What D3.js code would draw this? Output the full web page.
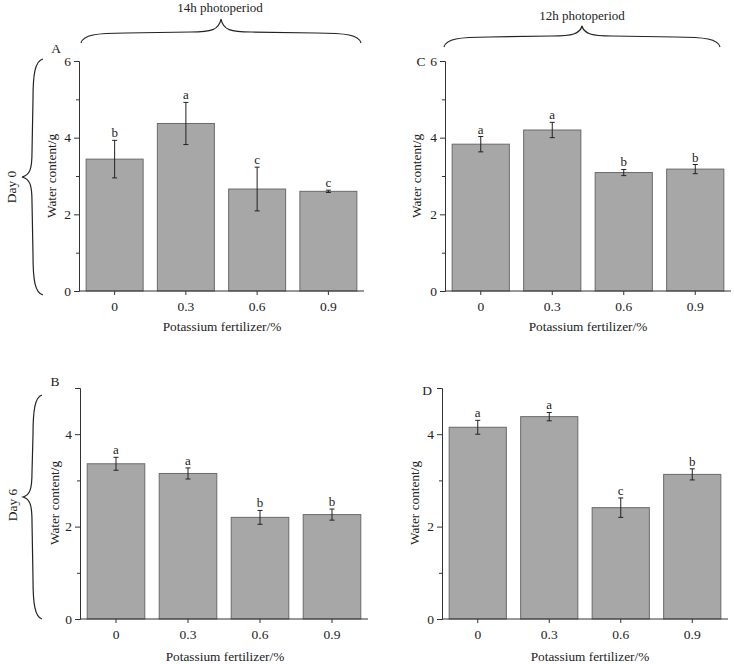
<!DOCTYPE html>
<html><head><meta charset="utf-8">
<script src="https://cdn.jsdelivr.net/npm/d3@7"></script>
<style>
body{margin:0;background:#fff;}
text{font-family:"Liberation Serif","Times New Roman",serif;fill:#222;}
</style></head>
<body>
<svg id="c" width="734" height="664"></svg>
<script>
const categories = ["0", "0.3", "0.6", "0.9"];
const meansA = [3.44, 4.37, 2.66, 2.60];
const errA = [0.49, 0.55, 0.57, 0.03];
const lettersA = ["b", "a", "c", "c"];
const meansB = [3.36, 3.15, 2.20, 2.26];
const errB = [0.14, 0.12, 0.15, 0.12];
const lettersB = ["a", "a", "b", "b"];
const meansC = [3.83, 4.20, 3.09, 3.18];
const errC = [0.20, 0.20, 0.08, 0.12];
const lettersC = ["a", "a", "b", "b"];
const meansD = [4.15, 4.38, 2.41, 3.13];
const errD = [0.15, 0.09, 0.21, 0.12];
const lettersD = ["a", "a", "c", "b"];
const yTicksDay0 = [0, 2, 4, 6];
const yMinorDay0 = [1, 3, 5];
const yTicksDay6 = [0, 2, 4];
const yMinorDay6 = [1, 3, 5];
const xTitle = "Potassium fertilizer/%";
const yTitle = "Water content/g";

const svg = d3.select("#c");
const axisColor = "#333";

function panel(o) {
  const g = svg.append("g");
  const x = d3.scaleBand().domain(categories).range([o.x0, o.x1]).paddingInner(0.2).paddingOuter(0.1);
  const y = d3.scaleLinear().domain([0, o.ymax]).range([o.y0, o.y1]);
  g.selectAll("rect.bar").data(categories).join("rect")
    .attr("x", d => x(d)).attr("width", x.bandwidth())
    .attr("y", (d, i) => y(o.means[i])).attr("height", (d, i) => y(0) - y(o.means[i]))
    .attr("fill", "#a7a7a7").attr("stroke", "#6a6a6a").attr("stroke-width", 1);
  const eb = g.selectAll("g.eb").data(categories).join("g");
  eb.append("line")
    .attr("x1", d => x(d) + x.bandwidth() / 2).attr("x2", d => x(d) + x.bandwidth() / 2)
    .attr("y1", (d, i) => y(o.means[i] - o.err[i])).attr("y2", (d, i) => y(o.means[i] + o.err[i]))
    .attr("stroke", "#222").attr("stroke-width", 1);
  [-1, 1].forEach(s => {
    eb.append("line")
      .attr("x1", d => x(d) + x.bandwidth() / 2 - 2.5).attr("x2", d => x(d) + x.bandwidth() / 2 + 2.5)
      .attr("y1", (d, i) => y(o.means[i] + s * o.err[i])).attr("y2", (d, i) => y(o.means[i] + s * o.err[i]))
      .attr("stroke", "#222").attr("stroke-width", 1);
  });
  g.selectAll("text.let").data(categories).join("text")
    .attr("x", d => x(d) + x.bandwidth() / 2)
    .attr("y", (d, i) => y(o.means[i] + o.err[i]) - 3)
    .attr("text-anchor", "middle").attr("font-size", 13)
    .text((d, i) => o.letters[i]);
  const ya = g.append("g").attr("transform", `translate(${o.x0},0)`)
    .call(d3.axisLeft(y).tickValues(o.ticks).tickSize(5).tickPadding(3).tickFormat(d3.format("d")));
  ya.select(".domain").attr("stroke", axisColor);
  ya.selectAll(".tick line").attr("stroke", axisColor);
  ya.selectAll(".tick text").attr("font-size", 13.5).attr("font-family", "Liberation Serif").attr("fill", "#222");
  const ym = g.append("g").attr("transform", `translate(${o.x0},0)`)
    .call(d3.axisLeft(y).tickValues(o.minor).tickSize(3).tickFormat(""));
  ym.select(".domain").remove();
  ym.selectAll(".tick line").attr("stroke", axisColor);
  const xa = g.append("g").attr("transform", `translate(0,${o.y0})`)
    .call(d3.axisBottom(x).tickSize(4).tickPadding(6));
  xa.select(".domain").attr("stroke", axisColor).attr("d", `M${o.x0},0H${o.x1}`);
  xa.selectAll(".tick line").attr("stroke", axisColor);
  xa.selectAll(".tick text").attr("font-size", 13.5).attr("font-family", "Liberation Serif").attr("fill", "#222");
  g.append("text").attr("x", o.xtx).attr("y", o.xty).attr("text-anchor", "middle")
    .attr("font-size", 13.3).text(xTitle);
  g.append("text").attr("transform", `translate(${o.ytx},${o.yty}) rotate(-90)`)
    .attr("text-anchor", "middle").attr("font-size", 13.3).text(yTitle);
  g.append("text").attr("x", o.lx).attr("y", o.ly).attr("text-anchor", "middle")
    .attr("font-size", 13.5).text(o.label);
}

panel({means: meansA, err: errA, letters: lettersA, ticks: yTicksDay0, minor: yMinorDay0, ymax: 6,
  x0: 79, x1: 364, y0: 291, y1: 61, xtx: 222, xty: 331, ytx: 56, yty: 176, lx: 56, ly: 53, label: "A"});
panel({means: meansC, err: errC, letters: lettersC, ticks: yTicksDay0, minor: yMinorDay0, ymax: 6,
  x0: 445, x1: 731, y0: 291, y1: 61, xtx: 588, xty: 331, ytx: 421, yty: 176, lx: 421, ly: 66, label: "C"});
panel({means: meansB, err: errB, letters: lettersB, ticks: yTicksDay6, minor: yMinorDay6, ymax: 5,
  x0: 80, x1: 368, y0: 619, y1: 388, xtx: 225, xty: 661, ytx: 59, yty: 503, lx: 55, ly: 386, label: "B"});
panel({means: meansD, err: errD, letters: lettersD, ticks: yTicksDay6, minor: yMinorDay6, ymax: 5,
  x0: 442, x1: 728, y0: 619, y1: 388, xtx: 590, xty: 661, ytx: 419, yty: 503, lx: 427, ly: 395, label: "D"});

function hBrace(x1, x2, yEnd, yFlat, yTip) {
  const cx = (x1 + x2) / 2;
  return `M${x1},${yEnd} C${x1 + 2},${yFlat + 2} ${x1 + 15},${yFlat} ${x1 + 45},${yFlat}` +
    ` L${cx - 30},${yFlat - 1} C${cx - 10},${yFlat - 1} ${cx - 2},${yFlat - 3} ${cx},${yTip}` +
    ` C${cx + 2},${yFlat - 3} ${cx + 10},${yFlat - 1} ${cx + 30},${yFlat - 1}` +
    ` L${x2 - 45},${yFlat} C${x2 - 15},${yFlat} ${x2 - 2},${yFlat + 2} ${x2},${yEnd}`;
}
function vBrace(y1, y2, xEnd, xFlat, xTip, yTipPos) {
  const cy = yTipPos;
  return `M${xEnd},${y1} C${xFlat + 2},${y1 + 2} ${xFlat},${y1 + 15} ${xFlat},${y1 + 40}` +
    ` L${xFlat - 1},${cy - 25} C${xFlat - 1},${cy - 8} ${xFlat - 3},${cy - 2} ${xTip},${cy}` +
    ` C${xFlat - 3},${cy + 2} ${xFlat - 1},${cy + 8} ${xFlat - 1},${cy + 25}` +
    ` L${xFlat},${y2 - 40} C${xFlat},${y2 - 15} ${xFlat + 2},${y2 - 2} ${xEnd},${y2}`;
}
const braceStyle = s => s.attr("fill", "none").attr("stroke", "#222").attr("stroke-width", 1.2);
svg.append("path").attr("d", hBrace(81, 361, 43, 33, 19)).call(braceStyle);
svg.append("path").attr("d", hBrace(444, 720, 47, 37, 26)).call(braceStyle);
svg.append("path").attr("d", vBrace(59, 295, 43, 33, 22, 177)).call(braceStyle);
svg.append("path").attr("d", vBrace(395, 619, 42, 33, 23, 497)).call(braceStyle);

svg.append("text").attr("x", 220).attr("y", 12).attr("text-anchor", "middle").attr("font-size", 13).text("14h photoperiod");
svg.append("text").attr("x", 582).attr("y", 20).attr("text-anchor", "middle").attr("font-size", 13).text("12h photoperiod");
svg.append("text").attr("transform", "translate(16,187) rotate(-90)").attr("text-anchor", "middle").attr("font-size", 13.5).text("Day 0");
svg.append("text").attr("transform", "translate(17,505) rotate(-90)").attr("text-anchor", "middle").attr("font-size", 13.5).text("Day 6");
</script>
</body></html>
